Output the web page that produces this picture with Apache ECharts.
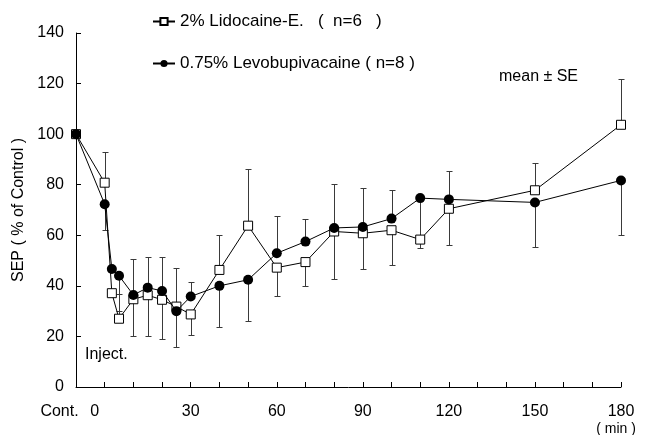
<!DOCTYPE html>
<html>
<head>
<meta charset="utf-8">
<script src="https://cdn.jsdelivr.net/npm/echarts@6/dist/echarts.min.js"></script>
<style>
html,body{margin:0;padding:0;background:#fff;}
#chart{width:660px;height:435px;}
</style>
</head>
<body>
<div id="chart"></div>
<script>
// time points (min); -10 stands for "Cont."
var times = [-10, 0, 2.5, 5, 10, 15, 20, 25, 30, 40, 50, 60, 70, 80, 90, 100, 110, 120, 150, 180];
// 2% Lidocaine-E. (n=6)
var lido = [100, 80.8, 37.1, 27.0, 34.7, 36.3, 34.5, 31.8, 28.7, 46.3, 63.8, 47.2, 49.4, 61.5, 60.8, 62.0, 58.3, 70.5, 77.8, 103.7];
var lidoSE = [0, 12.0, 0, 9.8, 14.4, 16.0, 15.4, 15.2, 8.0, 13.8, 22.3, 11.4, 9.3, 18.9, 14.1, 13.6, 3.3, 14.2, 10.8, 18.3];
var lidoDir = [0, 1, 0, 1, -1, -1, -1, 1, -1, 1, 1, -1, -1, -1, -1, -1, -1, -1, 1, 1];
// 0.75% Levobupivacaine (n=8)
var levo = [100, 72.3, 46.7, 44.0, 36.4, 39.3, 38.0, 30.0, 35.8, 40.0, 42.4, 52.9, 57.5, 62.9, 63.3, 66.6, 74.7, 74.2, 73.0, 81.7];
var levoSE = [0, 10.3, 0, 14.1, 14.1, 12.3, 13.6, 14.2, 5.7, 16.1, 16.2, 14.7, 8.8, 17.5, 15.4, 11.2, 16.2, 11.2, 17.5, 21.4];
var levoDir = [0, -1, 0, -1, 1, 1, 1, -1, 1, -1, -1, 1, 1, 1, 1, 1, -1, 1, -1, -1];
// tick labels
var xTickLabels = {'-10': 'Cont.', '0': '0', '30': '30', '60': '60', '90': '90', '120': '120', '150': '150', '180': '180'};
var yTicks = [0, 20, 40, 60, 80, 100, 120, 140];
var seriesNames = ['2% Lidocaine-E.   (  n=6   )', '0.75% Levobupivacaine ( n=8 )'];

var FONT = '"Liberation Sans", Arial, sans-serif';

function pairs(vals) {
  return times.map(function (t, i) { return [t, vals[i]]; });
}
function errData(vals, se, dir) {
  var out = [];
  for (var i = 0; i < times.length; i++) {
    if (se[i] > 0) out.push([times[i], vals[i], vals[i] + dir[i] * se[i]]);
  }
  return out;
}
function renderErr(params, api) {
  var p0 = api.coord([api.value(0), api.value(1)]);
  var p1 = api.coord([api.value(0), api.value(2)]);
  var x = Math.round(p0[0]) + 0.5;
  var y1 = Math.round(p1[1]) + 0.5;
  var st = {stroke: '#3a3a3a', lineWidth: 1};
  return {
    type: 'group',
    children: [
      {type: 'line', shape: {x1: x, y1: p0[1], x2: x, y2: y1}, style: st},
      {type: 'line', shape: {x1: x - 3, y1: y1, x2: x + 3, y2: y1}, style: st}
    ]
  };
}

var chart = echarts.init(document.getElementById('chart'), null, {renderer: 'canvas'});
chart.setOption({
  animation: false,
  backgroundColor: '#fff',
  textStyle: {fontFamily: FONT},
  grid: {left: 76, right: 39, top: 33, bottom: 48, containLabel: false, outerBoundsMode: 'none'},
  legend: {
    data: seriesNames,
    orient: 'vertical',
    left: 147, top: 8,
    itemWidth: 22, itemHeight: 9, itemGap: 25,
    textStyle: {fontFamily: FONT, fontSize: 17, color: '#000'},
    selectedMode: false
  },
  xAxis: {
    type: 'value', min: -10, max: 180, interval: 10,
    axisLine: {onZero: false, lineStyle: {color: '#000', width: 1}},
    axisTick: {inside: true, length: 5, lineStyle: {color: '#000'}},
    splitLine: {show: false},
    axisLabel: {
      showMinLabel: true, showMaxLabel: true,
      margin: 17, color: '#000', fontSize: 16, fontFamily: FONT,
      formatter: function (v) {
        var s = xTickLabels[String(v)];
        if (!s) return '';
        if (v === -10) return '{c|' + s + '}';
        if (v === 0) return '{z|' + s + '}';
        if (v === 180) return '{n|' + s + '}\n{m|( min )}';
        return '{n|' + s + '}';
      },
      rich: {
        c: {fontSize: 16, fontFamily: FONT, color: '#000', padding: [0, 33, 0, 0]},
        z: {fontSize: 16, fontFamily: FONT, color: '#000', padding: [0, 20, 0, 0]},
        n: {fontSize: 16, fontFamily: FONT, color: '#000'},
        m: {fontSize: 14, fontFamily: FONT, color: '#000', lineHeight: 18, padding: [0, 10, 0, 0]}
      }
    }
  },
  yAxis: {
    type: 'value', min: yTicks[0], max: yTicks[yTicks.length - 1], interval: 20,
    name: 'SEP ( % of Control )',
    nameLocation: 'middle', nameGap: 43,
    nameTextStyle: {fontFamily: FONT, fontSize: 16, color: '#000'},
    axisLine: {show: true, onZero: false, lineStyle: {color: '#000', width: 1}},
    axisTick: {show: true, inside: true, length: 5, lineStyle: {color: '#000'}},
    splitLine: {show: false},
    axisLabel: {margin: 12, color: '#000', fontSize: 16, fontFamily: FONT}
  },
  graphic: [
    {type: 'text', left: 499, top: 69, style: {text: 'mean \u00b1 SE', font: '16px ' + FONT, fill: '#000'}},
    {type: 'text', left: 85, top: 347, style: {text: 'Inject.', font: '16px ' + FONT, fill: '#000'}}
  ],
  series: [
    {
      type: 'custom', name: 'lidoErr', renderItem: renderErr, data: errData(lido, lidoSE, lidoDir),
      encode: {x: 0, y: [1, 2]}, z: 1, silent: true
    },
    {
      type: 'custom', name: 'levoErr', renderItem: renderErr, data: errData(levo, levoSE, levoDir),
      encode: {x: 0, y: [1, 2]}, z: 1, silent: true
    },
    {
      type: 'line', name: seriesNames[0], data: pairs(lido), z: 3,
      symbol: 'rect', symbolSize: 9,
      lineStyle: {color: '#000', width: 1},
      itemStyle: {color: '#fff', borderColor: '#000', borderWidth: 1}
    },
    {
      type: 'line', name: seriesNames[1], data: pairs(levo), z: 4,
      symbol: 'circle', symbolSize: 10,
      lineStyle: {color: '#000', width: 1},
      itemStyle: {color: '#000', borderColor: '#000', borderWidth: 0}
    }
  ]
});
</script>
</body>
</html>
